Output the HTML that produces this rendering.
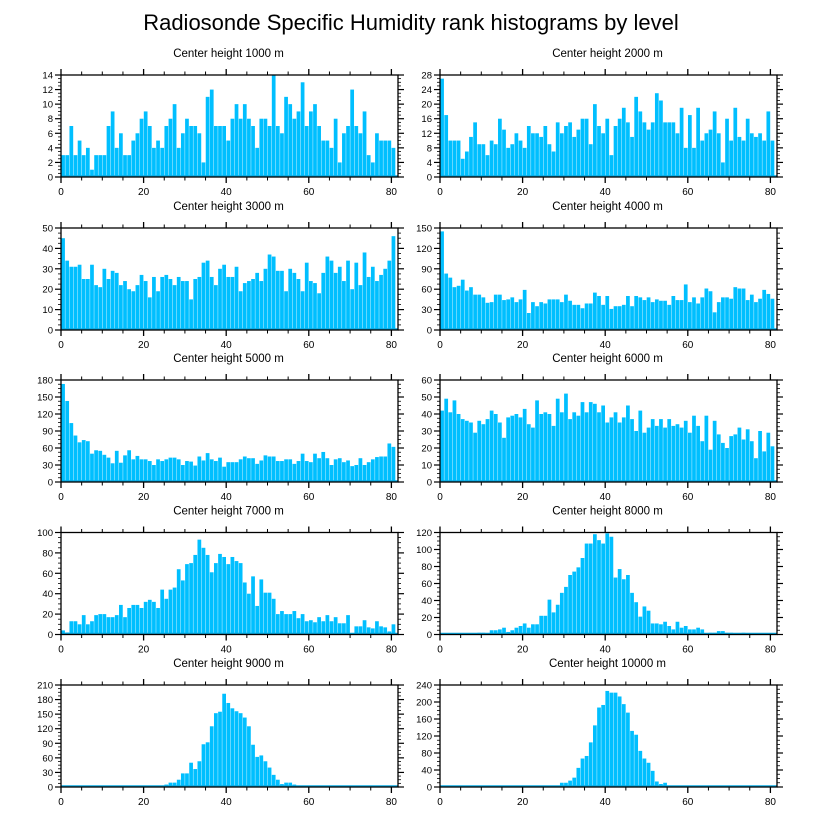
<!DOCTYPE html>
<html><head><meta charset="utf-8"><style>
html,body{margin:0;padding:0;background:#fff}
svg{display:block;font-family:"Liberation Sans",sans-serif}
</style></head><body>
<svg id="c" width="816" height="824" viewBox="0 0 816 824">
<text x="411" y="30" text-anchor="middle" font-size="22">Radiosonde Specific Humidity rank histograms by level</text>
</svg>
<script>
const levels = ["Center height 1000 m","Center height 2000 m","Center height 3000 m","Center height 4000 m","Center height 5000 m","Center height 6000 m","Center height 7000 m","Center height 8000 m","Center height 9000 m","Center height 10000 m"];
const yMax = [14,28,50,150,180,60,100,120,210,240];
const yStep = [2,4,10,30,30,10,20,20,30,40];
const xTicks = [0,20,40,60,80];
const h1000 = [3,3,7,3,5,3,4,1,3,3, 3,7,9,4,6,3,3,5,6,8, 9,7,4,5,4,7,8,10,4,6, 8,7,7,6,2,11,12,7,7,7, 5,8,10,8,10,8,7,4,8,8, 7,14,7,6,11,10,8,9,13,7, 9,10,7,5,5,4,8,2,6,7, 12,7,6,9,3,2,6,5,5,5, 4];
const h2000 = [27,17,10,10,10,5,7,11,15,9, 9,6,10,9,16,13,8,9,12,10, 8,14,12,12,11,14,9,7,15,12, 14,15,11,13,16,16,9,20,14,12, 16,6,14,16,19,15,11,22,18,15, 13,15,23,21,15,15,15,12,19,8, 17,8,19,10,12,13,18,12,4,16, 10,19,11,10,16,12,11,12,10,18, 10];
const h3000 = [45,34,31,31,32,25,25,32,22,21, 30,25,29,28,22,24,20,19,22,27, 24,16,26,19,26,27,25,22,26,24, 24,15,25,26,33,34,26,22,30,32, 26,26,31,19,23,24,25,28,24,30, 37,36,29,29,19,30,28,25,19,33, 24,23,18,28,36,34,28,31,24,34, 20,33,22,38,26,31,24,27,30,34, 46];
const h4000 = [145,83,77,63,65,74,58,63,52,52, 48,40,41,52,52,44,45,48,41,45, 59,25,41,35,41,39,45,45,45,41, 52,43,37,37,32,39,39,55,50,37, 50,31,35,35,37,50,35,50,48,44, 48,41,45,43,43,37,50,44,44,67, 41,48,39,48,61,57,26,41,48,48, 46,63,61,61,44,52,41,46,59,53, 46];
const h5000 = [173,143,104,82,70,74,72,50,56,55, 48,43,33,55,34,47,56,40,46,40, 40,37,30,40,37,40,43,43,40,30, 37,36,29,45,38,51,40,37,43,27, 35,35,35,40,45,42,42,32,38,47, 45,45,37,37,40,40,32,37,50,37, 35,50,42,53,42,30,40,42,35,38, 28,30,42,30,35,40,44,45,45,68, 62];
const h6000 = [42,49,41,48,40,37,36,35,29,36, 34,37,42,40,35,26,38,39,40,38, 43,34,32,48,40,41,40,33,49,41, 52,37,41,39,47,41,47,46,41,45, 35,38,41,35,38,45,37,30,42,29, 32,37,33,37,32,37,33,34,32,36, 29,39,33,24,39,19,36,28,23,20, 27,28,32,25,31,24,14,30,18,29, 21];
const h7000 = [4,2,13,13,10,19,10,13,19,20, 20,17,17,19,29,17,26,29,29,26, 32,34,32,26,44,35,44,46,64,53, 69,70,78,93,85,78,61,70,79,76, 69,76,72,70,51,40,57,28,54,41, 41,35,20,23,20,20,23,16,20,13, 14,12,17,13,19,13,17,11,11,19, 0,8,8,14,7,6,13,8,7,3, 10];
const h8000 = [0,0,0,0,0,0,0,0,0,2, 2,0,5,5,6,8,3,5,8,10, 13,8,12,12,22,22,41,26,35,49, 56,70,74,79,90,107,107,118,111,107, 119,115,67,77,65,70,49,38,21,33, 28,13,13,12,15,10,6,15,8,10, 6,6,8,6,0,2,2,4,4,2, 2,0,0,2,0,0,0,0,0,0, 0];
const h9000 = [0,0,0,0,0,0,0,0,0,0, 0,0,0,0,0,0,0,0,0,0, 0,0,2,2,0,5,9,9,15,28, 28,50,37,53,88,92,125,152,155,192, 173,162,156,152,143,125,87,62,65,53, 40,25,15,6,9,9,5,0,1,1, 1,0,0,0,0,0,0,0,0,0, 0,0,0,0,0,0,0,0,0,0, 0];
const h10000 = [0,0,0,0,0,0,0,0,0,0, 0,0,0,0,0,0,0,0,0,0, 0,0,0,0,0,0,0,2,2,10, 10,15,22,45,67,73,105,145,187,193, 226,222,222,213,195,175,132,123,85,67, 57,38,13,7,10,2,2,2,0,0, 0,0,0,0,0,0,0,0,0,0, 0,0,0,0,0,0,0,0,0,0, 0];
const series = [h1000,h2000,h3000,h4000,h5000,h6000,h7000,h8000,h9000,h10000];

const NS = "http://www.w3.org/2000/svg";
const svg = document.getElementById('c');
function mk(tag, attrs, parent){ const e=document.createElementNS(NS,tag); for(const k in attrs) e.setAttribute(k,attrs[k]); parent.appendChild(e); return e; }
const W = 337, H = 102, XMAX = 81.6;
const lefts = [61, 440];
const tops = [75, 228, 380, 532.5, 685];

series.forEach((vals, p) => {
  const px = lefts[p % 2], py = tops[Math.floor(p / 2)];
  const g = mk('g', {}, svg);
  
  
  const xs = v => px + v / XMAX * W;
  const ys = v => py + H - v / yMax[p] * H;
  const t = mk('text', {x: px + W/2 - 1, y: py - 18, 'text-anchor':'middle', 'font-size':'11.5'}, g);
  t.textContent = levels[p];
  
  
  vals.forEach((v, i) => {
    if (v <= 0) return;
    const r = mk('rect', {x: xs(i) + 0.2, y: ys(v), width: Math.max(0.5, xs(i+1) - xs(i) - 0.4), height: ys(0) - ys(v), fill:'#00bfff'}, g);
    
    
  });
  mk('line', {x1:px, x2:px+W, y1:py+H-1, y2:py+H-1, stroke:'#0aa8e0', 'stroke-width':1.5}, g);
  const f = mk('rect', {x:px, y:py, width:W, height:H, fill:'none', stroke:'#000', 'stroke-width':1.3}, g);
  
  
  for (let v = 0; v <= 80; v += 5) {
    const major = v % 20 === 0;
    const L = major ? 6 : 3.5, x = xs(v);
    mk('line', {x1:x, x2:x, y1:py, y2:py-L, stroke:'#000', 'stroke-width':major?1.3:1}, g);
    mk('line', {x1:x, x2:x, y1:py+H, y2:py+H+L, stroke:'#000', 'stroke-width':major?1.3:1}, g);
  }
  xTicks.forEach(v => {
    const tl = mk('text', {x: xs(v), y: py + H + 18, 'text-anchor':'middle', 'font-size':'10'}, g);
    tl.textContent = v;
    
    
  });
  const minor = yStep[p] / 4;
  for (let k = 0; k * minor <= yMax[p] + 1e-9; k++) {
    const v = k * minor, major = k % 4 === 0, y = ys(v), L = major ? 6 : 3;
    mk('line', {x1:px, x2:px-L, y1:y, y2:y, stroke:'#000', 'stroke-width':major?1.2:0.8}, g);
    mk('line', {x1:px+W, x2:px+W+L, y1:y, y2:y, stroke:'#000', 'stroke-width':major?1.2:0.8}, g);
  }
  for (let v = 0; v <= yMax[p]; v += yStep[p]) {
    const yl = mk('text', {x: px - 8, y: ys(v) + 3.5, 'text-anchor':'end', 'font-size':'9.5'}, g);
    yl.textContent = v;
    
    
  }
});
</script>
</body></html>
